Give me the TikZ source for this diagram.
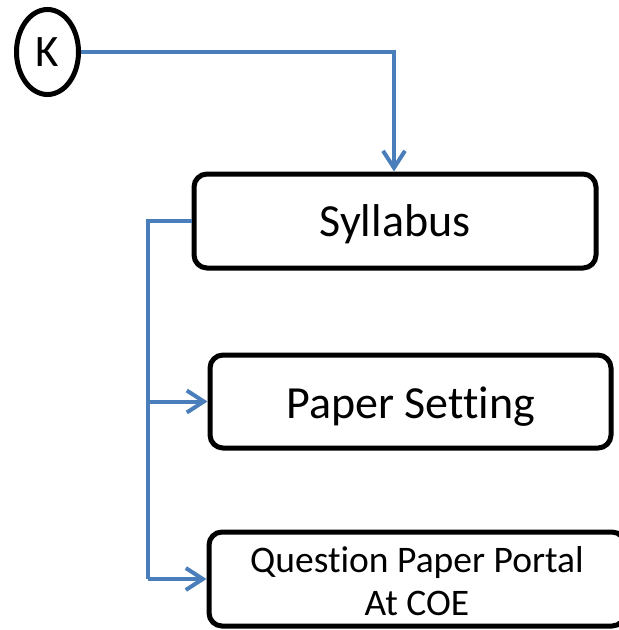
\documentclass[tikz,border=0pt]{standalone}
\usepackage{fontspec}
\setmainfont{Carlito}[Ligatures=NoCommon]
\usetikzlibrary{arrows.meta,shapes.geometric}
\definecolor{linkblue}{RGB}{74,126,187}
\begin{document}
\begin{tikzpicture}[x=1pt,y=-1pt,
  box/.style={draw=black,line width=5pt,rounded corners=13pt,align=center,inner sep=0pt},
  conn/.style={draw=linkblue,line width=4pt},
  tip/.style={-{Straight Barb[length=17pt,width=22pt]}}]
\useasboundingbox (0,0) rectangle (619,630);
\node[draw,ellipse,line width=5pt,minimum width=62pt,minimum height=85pt,inner sep=0pt,
      font=\fontsize{45}{54}\selectfont] (k) at (47.5,52) {K};
\node[box,minimum width=402pt,minimum height=94pt,font=\fontsize{46}{55}\selectfont,
      text height=30pt,text depth=0pt]
   (syl) at (395,221) {Syllabus};
\node[box,minimum width=401pt,minimum height=93pt,font=\fontsize{46}{55}\selectfont,
      text height=33pt,text depth=0pt]
   (pap) at (410.5,401.5) {Paper Setting};
\node[box,minimum width=416pt,minimum height=94pt,font=\fontsize{37.5}{43}\selectfont,
      text height=72pt,text depth=0pt]
   (que) at (417,579) {Question Paper Portal\\At COE};
\coordinate (turn) at (394,52);
\coordinate (left) at (148,221);
\draw[conn,tip] (k.east) -- (turn) -- (syl.north -| turn);
\draw[conn] (syl.west) -- (left) -- (left |- que.west);
\draw[conn,tip] (left |- pap.west) -- (pap.west);
\draw[conn,tip] (left |- que.west) -- (que.west);
\end{tikzpicture}
\end{document}
